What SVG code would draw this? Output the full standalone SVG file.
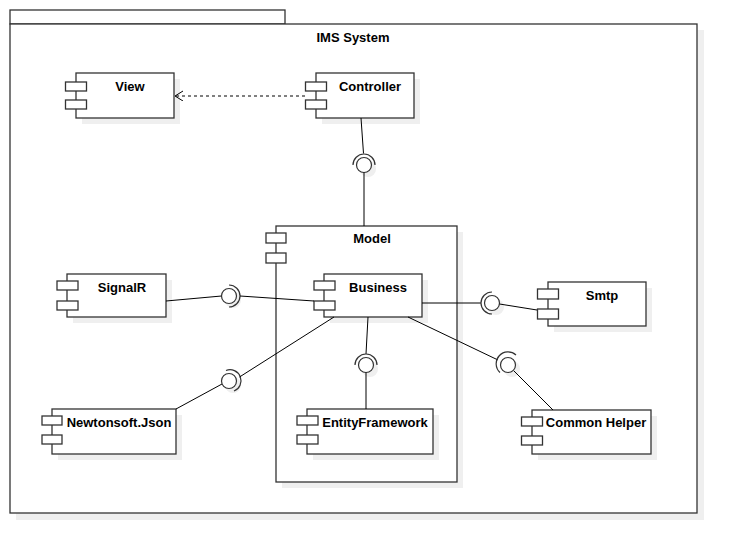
<svg xmlns="http://www.w3.org/2000/svg" width="738" height="553" viewBox="0 0 738 553">
<defs>
<style>
.bx{fill:#fff;stroke:#333;stroke-width:1.3}
.sh{fill:#efefef;stroke:none}
.pt{fill:#fff;stroke:#333;stroke-width:1.3}
.t{font-family:"Liberation Sans",Arial,sans-serif;font-weight:bold;font-size:13px;fill:#000;text-anchor:middle}
.ln{fill:none;stroke:#000;stroke-width:1}
.ball{fill:#fff;stroke:#333;stroke-width:1.2}
.arc{fill:none;stroke:#333;stroke-width:1.2}
</style>
<marker id="open" markerWidth="12" markerHeight="12" refX="9" refY="5" orient="auto" markerUnits="userSpaceOnUse">
<path d="M1,0 L9,5 L1,10" fill="none" stroke="#000" stroke-width="1"/>
</marker>
</defs>
<rect width="738" height="553" fill="#fff"/>
<g id="package">
<rect class="sh" x="16" y="30" width="688" height="490"/>
<rect class="bx" x="10" y="10" width="275" height="14"/>
<rect class="bx" x="10" y="24" width="687" height="489"/>
<text class="t" x="353" y="42">IMS System</text>
</g>
<g id="model">
<rect class="sh" x="282" y="232" width="181" height="256"/>
<rect class="bx" x="276" y="226" width="181" height="256"/>
<rect class="pt" x="266" y="233" width="20" height="10"/>
<rect class="pt" x="266" y="253" width="20" height="10"/>
<text class="t" x="372" y="243">Model</text>
</g>
<g id="view">
<rect class="sh" x="82" y="79" width="98" height="45"/>
<rect class="bx" x="76" y="73" width="98" height="45"/>
<rect class="pt" x="65.5" y="82" width="21" height="9"/>
<rect class="pt" x="65.5" y="100" width="21" height="9"/>
<text class="t" x="130" y="91">View</text>
</g>
<g id="controller">
<rect class="sh" x="322" y="79" width="98" height="45"/>
<rect class="bx" x="316" y="73" width="98" height="45"/>
<rect class="pt" x="305.5" y="82" width="21" height="9"/>
<rect class="pt" x="305.5" y="100" width="21" height="9"/>
<text class="t" x="370" y="91">Controller</text>
</g>
<g id="signalr">
<rect class="sh" x="73" y="280" width="99" height="43"/>
<rect class="bx" x="67" y="274" width="99" height="43"/>
<rect class="pt" x="57" y="281" width="21" height="9"/>
<rect class="pt" x="57" y="301" width="21" height="9"/>
<text class="t" x="122" y="292">SignalR</text>
</g>
<g id="business">
<rect class="sh" x="330" y="280" width="98" height="43"/>
<rect class="bx" x="324" y="274" width="98" height="43"/>
<rect class="pt" x="314" y="281" width="21" height="9"/>
<rect class="pt" x="314" y="301" width="21" height="9"/>
<text class="t" x="378" y="292">Business</text>
</g>
<g id="smtp">
<rect class="sh" x="554" y="288" width="98" height="44"/>
<rect class="bx" x="548" y="282" width="98" height="44"/>
<rect class="pt" x="537.5" y="289" width="21" height="10"/>
<rect class="pt" x="537.5" y="309" width="21" height="10"/>
<text class="t" x="602" y="300">Smtp</text>
</g>
<g id="newtonsoft">
<rect class="sh" x="58" y="415" width="124" height="45"/>
<rect class="bx" x="52" y="409" width="124" height="45"/>
<rect class="pt" x="42" y="416" width="20" height="9"/>
<rect class="pt" x="42" y="435" width="20" height="9"/>
<text class="t" x="119" y="427">Newtonsoft.Json</text>
</g>
<g id="entityframework">
<rect class="sh" x="313" y="415" width="126" height="45"/>
<rect class="bx" x="307" y="409" width="126" height="45"/>
<rect class="pt" x="297" y="416" width="21" height="9"/>
<rect class="pt" x="297" y="435" width="21" height="9"/>
<text class="t" x="375" y="427">EntityFramework</text>
</g>
<g id="commonhelper">
<rect class="sh" x="538" y="416" width="119" height="44"/>
<rect class="bx" x="532" y="410" width="119" height="44"/>
<rect class="pt" x="521.5" y="417" width="21" height="9"/>
<rect class="pt" x="521.5" y="436" width="21" height="9"/>
<text class="t" x="596" y="427">Common Helper</text>
</g>
<g id="connectors">
<line class="ln" x1="305" y1="96" x2="175" y2="96" stroke-dasharray="3,3" marker-end="url(#open)"/>
<!-- Controller - Model -->
<line class="ln" x1="361" y1="118" x2="363.5" y2="153.5"/>
<circle class="sh" cx="368" cy="169" r="8"/>
<circle class="ball" cx="364" cy="165" r="7.5"/>
<path class="arc" d="M353,165 A11,11 0 0 1 375,165"/>
<line class="ln" x1="364" y1="172.5" x2="364" y2="226"/>
<!-- SignalR - Business -->
<line class="ln" x1="166" y1="301" x2="221.5" y2="296"/>
<circle class="sh" cx="233" cy="300" r="8"/>
<circle class="ball" cx="229" cy="296" r="7.5"/>
<path class="arc" d="M229,285 A11,11 0 0 1 229,307"/>
<line class="ln" x1="240" y1="296" x2="314" y2="301"/>
<!-- Newtonsoft - Business -->
<line class="ln" x1="176" y1="409" x2="222" y2="384"/>
<circle class="sh" cx="233" cy="385" r="8"/>
<circle class="ball" cx="229" cy="381" r="7.5"/>
<path class="arc" d="M226,370.5 A11,11 0 0 1 234,391"/>
<line class="ln" x1="239.5" y1="377" x2="334" y2="317"/>
<!-- Business - EntityFramework -->
<line class="ln" x1="368" y1="317" x2="366" y2="354"/>
<circle class="sh" cx="370" cy="369" r="8"/>
<circle class="ball" cx="366" cy="365" r="7.5"/>
<path class="arc" d="M355,365 A11,11 0 0 1 377,365"/>
<line class="ln" x1="366" y1="372.5" x2="366" y2="409"/>
<!-- Business - Smtp -->
<line class="ln" x1="422" y1="303" x2="481" y2="303"/>
<circle class="sh" cx="496" cy="307" r="8"/>
<circle class="ball" cx="492" cy="303" r="7.5"/>
<path class="arc" d="M492,314 A11,11 0 0 1 492,292"/>
<line class="ln" x1="499.5" y1="304" x2="537" y2="310"/>
<!-- Business - Common Helper -->
<line class="ln" x1="408" y1="317" x2="498" y2="360"/>
<circle class="sh" cx="512" cy="369" r="8"/>
<circle class="ball" cx="508" cy="365" r="7.5"/>
<path class="arc" d="M500,372.5 A11,11 0 0 1 516,355"/>
<line class="ln" x1="514" y1="371" x2="553" y2="410"/>
</g>
</svg>
